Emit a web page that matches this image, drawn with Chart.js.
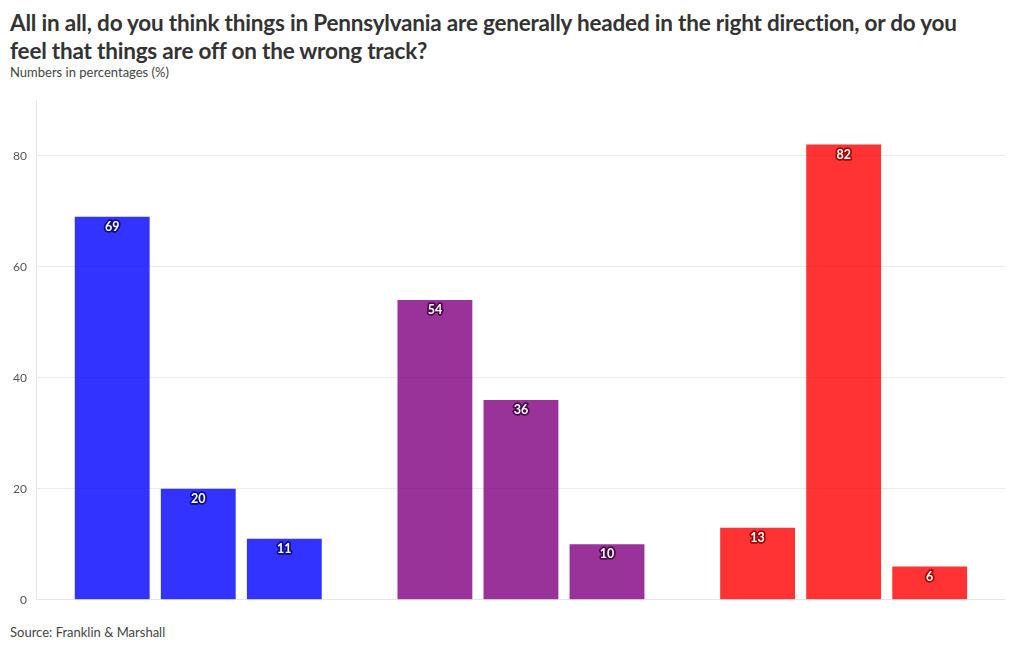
<!DOCTYPE html>
<html>
<head>
<meta charset="utf-8">
<script src="https://cdn.jsdelivr.net/npm/chart.js@4"></script>
<style>
  body { margin: 0; background: #fff; font-family: Lato, "Open Sans", sans-serif; color: #333; }
  #wrap { position: relative; width: 1020px; height: 650px; overflow: hidden; }
  #title { position: absolute; left: 10px; top: 9px; width: 1005px; font-size: 22.5px; font-weight: bold; line-height: 28px; color: #333; letter-spacing: -0.2px; }
  #sub { position: absolute; left: 10px; top: 64px; font-size: 13px; color: #444; }
  #source { position: absolute; left: 10px; top: 624px; font-size: 13px; color: #444; }
  #box { position: absolute; left: 0; top: 83px; width: 1005px; height: 534px; }
</style>
</head>
<body>
<div id="wrap">
  <div id="title">All in all, do you think things in Pennsylvania are generally headed in the right direction, or do you<br>feel that things are off on the wrong track?</div>
  <div id="sub">Numbers in percentages (%)</div>
  <div id="box"><canvas id="chart"></canvas></div>
  <div id="source">Source: Franklin &amp; Marshall</div>
</div>
<script>
// groups and answers
const groups = ['Democrats', 'Independents', 'Republicans'];
const answers = ['Right direction', 'Wrong track', "Don't know"];
const rightDirection = [69, 54, 13];
const wrongTrack = [20, 36, 82];
const dontKnow = [11, 10, 6];
const yTicks = [0, 20, 40, 60, 80];

const groupColors = ['rgba(0,0,255,0.8)', 'rgba(128,0,128,0.8)', 'rgba(255,0,0,0.8)'];
const labelStroke = ['#0c0c90', '#4a0a4a', '#a00808'];

// draws the value on top of each bar, white with a dark outline
const barLabels = {
    id: 'barLabels',
    afterDatasetsDraw(chart) {
        const ctx = chart.ctx;
        ctx.save();
        ctx.font = 'bold 12.5px Lato, sans-serif';
        ctx.textAlign = 'center';
        ctx.textBaseline = 'middle';
        ctx.lineJoin = 'round';
        chart.data.datasets.forEach((ds, i) => {
            chart.getDatasetMeta(i).data.forEach((bar, j) => {
                const txt = String(ds.data[j]);
                const y = bar.y + 10;
                ctx.lineWidth = 3.5;
                ctx.strokeStyle = labelStroke[j];
                ctx.strokeText(txt, bar.x, y);
                ctx.fillStyle = '#fff';
                ctx.fillText(txt, bar.x, y);
            });
        });
        ctx.restore();
    }
};

new Chart(document.getElementById('chart'), {
    type: 'bar',
    data: {
        labels: groups,
        datasets: [
            { label: answers[0], data: rightDirection },
            { label: answers[1], data: wrongTrack },
            { label: answers[2], data: dontKnow }
        ].map(d => Object.assign(d, {
            backgroundColor: groupColors,
            categoryPercentage: 0.8,
            barPercentage: 0.87
        }))
    },
    options: {
        responsive: true,
        maintainAspectRatio: false,
        animation: false,
        layout: { padding: { top: 2, left: 3, right: 0, bottom: 0 } },
        plugins: { legend: { display: false }, tooltip: { enabled: false } },
        scales: {
            x: {
                grid: { display: false, drawTicks: false },
                border: { color: '#e6e6e6' },
                ticks: { display: false }
            },
            y: {
                min: 0,
                max: 90,
                afterBuildTicks: (scale) => { scale.ticks = yTicks.map(v => ({ value: v })); },
                grid: { color: '#ebebeb', drawTicks: false },
                border: { color: '#e6e6e6' },
                ticks: { color: '#555', font: { family: 'Lato', size: 12 }, padding: 10 }
            }
        }
    },
    plugins: [barLabels]
});
</script>
</body>
</html>
